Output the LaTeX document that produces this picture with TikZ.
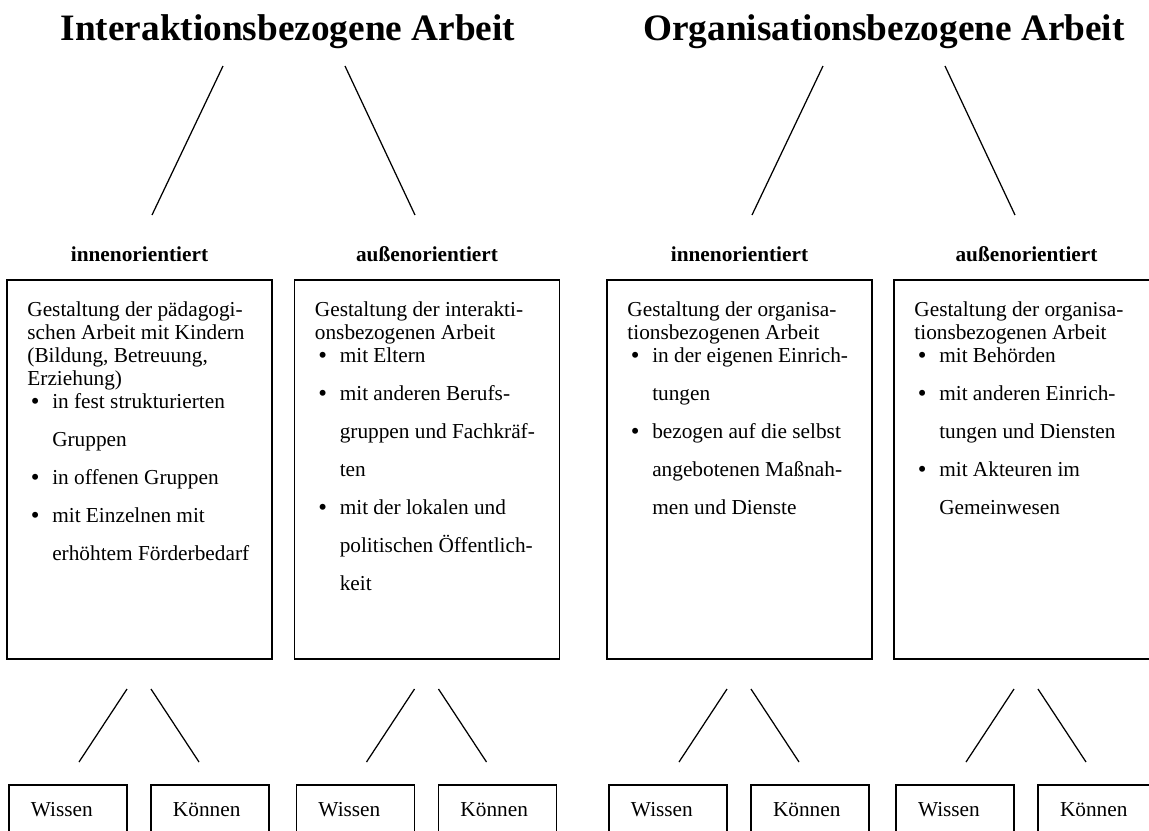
\documentclass[tikz,border=0pt]{standalone}
\usepackage{fontspec}
\setmainfont{Liberation Serif}
\usetikzlibrary{positioning}
\newcommand{\fl}{\rule{0pt}{9pt}}
\newcommand{\bul}{\makebox[14pt][l]{\hspace{2pt}\raisebox{-0.4pt}{\fontsize{14}{14}\selectfont\textbullet}}}
\newcommand{\ind}{\hspace*{14pt}}
\begin{document}
\begin{tikzpicture}[x=0.5634pt, y=-0.5634pt,
    titel/.style ={font=\bfseries\fontsize{21}{25}\selectfont, inner sep=0pt, anchor=base},
    ebene/.style ={font=\bfseries\fontsize{12}{13}\selectfont, inner sep=0pt},
    rahmen/.style ={draw, line width=1pt, minimum width=149.3pt, minimum height=213.5pt},
    inhalt/.style ={font=\fontsize{12}{13}\selectfont, align=left, inner sep=0pt},
    kasten/.style ={draw, line width=1pt, minimum height=28.2pt, text width=41.7pt,
                    inner xsep=12.4pt, align=left, font=\fontsize{12}{13}\selectfont},
    linie/.style ={line width=0.7pt}]
   \useasboundingbox (0,0) rectangle (1149,830);
   \clip (0,0) rectangle (1149,830);

   % Ueberschriften
   \node[titel] (IA) at (288,40) {Interaktionsbezogene Arbeit};
   \node[titel] (OA) at (884,40) {Organisationsbezogene Arbeit};

   % Bereiche
   \node[rahmen] (B1) at (139.5,469.5) {};
   \node[rahmen] (B2) at (427,469.5) {};
   \node[rahmen] (B3) at (739.5,469.5) {};
   \node[rahmen] (B4) at (1026.5,469.5) {};

   \node[ebene, above=9.6pt of B1] (L1) {innenorientiert};
   \node[ebene, above=9.6pt of B2] (L2) {außenorientiert};
   \node[ebene, above=9.6pt of B3] (L3) {innenorientiert};
   \node[ebene, above=9.6pt of B4] (L4) {außenorientiert};

   \node[inhalt, below right=11.8pt and 11.8pt of B1.north west] (T1) {\fl Gestaltung der pädagogi-\\
      schen Arbeit mit Kindern\\
      (Bildung, Betreuung,\\
      Erziehung)\\
      \bul in fest strukturierten\\[8.4pt]
      \ind Gruppen\\[8.4pt]
      \bul in offenen Gruppen\\[8.4pt]
      \bul mit Einzelnen mit\\[8.4pt]
      \ind erhöhtem Förderbedarf};
   \node[inhalt, below right=11.8pt and 11.8pt of B2.north west] (T2) {\fl Gestaltung der interakti-\\
      onsbezogenen Arbeit\\
      \bul mit Eltern\\[8.4pt]
      \bul mit anderen Berufs-\\[8.4pt]
      \ind gruppen und Fachkräf-\\[8.4pt]
      \ind ten\\[8.4pt]
      \bul mit der lokalen und\\[8.4pt]
      \ind politischen Öffentlich-\\[8.4pt]
      \ind keit};
   \node[inhalt, below right=11.8pt and 11.8pt of B3.north west] (T3) {\fl Gestaltung der organisa-\\
      tionsbezogenen Arbeit\\
      \bul in der eigenen Einrich-\\[8.4pt]
      \ind tungen\\[8.4pt]
      \bul bezogen auf die selbst\\[8.4pt]
      \ind angebotenen Maßnah-\\[8.4pt]
      \ind men und Dienste};
   \node[inhalt, below right=11.8pt and 11.8pt of B4.north west] (T4) {\fl Gestaltung der organisa-\\
      tionsbezogenen Arbeit\\
      \bul mit Behörden\\[8.4pt]
      \bul mit anderen Einrich-\\[8.4pt]
      \ind tungen und Diensten\\[8.4pt]
      \bul mit Akteuren im\\[8.4pt]
      \ind Gemeinwesen};

   % Wissen und Koennen
   \node[kasten] (W1) at (68,810) {Wissen};
   \node[kasten] (K1) at (210,810) {Können};
   \node[kasten] (W2) at (355.5,810) {Wissen};
   \node[kasten] (K2) at (497.5,810) {Können};
   \node[kasten] (W3) at (668,810) {Wissen};
   \node[kasten] (K3) at (810,810) {Können};
   \node[kasten] (W4) at (955,810) {Wissen};
   \node[kasten] (K4) at (1097,810) {Können};

   % Linien oben
   \coordinate (IA-l) at (223,66);   \coordinate (L1-o) at (152,215);
   \coordinate (IA-r) at (345,66);   \coordinate (L2-o) at (415,215);
   \coordinate (OA-l) at (823,66);   \coordinate (L3-o) at (752,215);
   \coordinate (OA-r) at (945,66);   \coordinate (L4-o) at (1015,215);
   \draw[linie] (IA-l) -- (L1-o);
   \draw[linie] (IA-r) -- (L2-o);
   \draw[linie] (OA-l) -- (L3-o);
   \draw[linie] (OA-r) -- (L4-o);

   % Linien unten
   \coordinate (B1-l) at (127,689);   \coordinate (W1-o) at (79,762);
   \coordinate (B1-r) at (151,689);   \coordinate (K1-o) at (199,762);
   \coordinate (B2-l) at (414.5,689); \coordinate (W2-o) at (366.5,762);
   \coordinate (B2-r) at (438.5,689); \coordinate (K2-o) at (486.5,762);
   \coordinate (B3-l) at (727,689);   \coordinate (W3-o) at (679,762);
   \coordinate (B3-r) at (751,689);   \coordinate (K3-o) at (799,762);
   \coordinate (B4-l) at (1014,689);  \coordinate (W4-o) at (966,762);
   \coordinate (B4-r) at (1038,689);  \coordinate (K4-o) at (1086,762);
   \draw[linie] (B1-l) -- (W1-o);
   \draw[linie] (B1-r) -- (K1-o);
   \draw[linie] (B2-l) -- (W2-o);
   \draw[linie] (B2-r) -- (K2-o);
   \draw[linie] (B3-l) -- (W3-o);
   \draw[linie] (B3-r) -- (K3-o);
   \draw[linie] (B4-l) -- (W4-o);
   \draw[linie] (B4-r) -- (K4-o);
 \end{tikzpicture}
\end{document}
